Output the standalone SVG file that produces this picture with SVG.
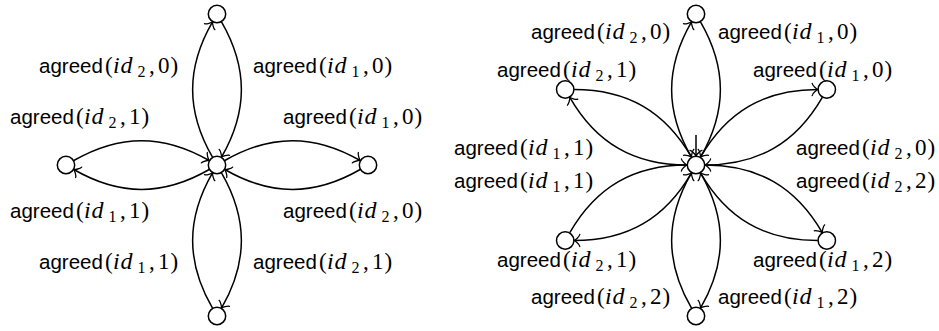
<svg xmlns="http://www.w3.org/2000/svg" width="939" height="331" viewBox="0 0 939 331">
<style>
.n{fill:#fff;stroke:#000;stroke-width:1.5}
.e{fill:none;stroke:#000;stroke-width:1.5;marker-end:url(#to)}
text{fill:#000}
.sf{font-family:"Liberation Sans",Arial,sans-serif;font-size:20.5px}
.m{font-family:"Liberation Serif","Times New Roman",serif;font-size:23px}
.mi{font-family:"Liberation Serif","Times New Roman",serif;font-size:24px;font-style:italic}
.sub{font-family:"Liberation Serif","Times New Roman",serif;font-size:16px}
</style>
<defs>
<marker id="to" markerUnits="userSpaceOnUse" viewBox="-8 -8 12 16" refX="1" refY="0" markerWidth="12" markerHeight="16" orient="auto" overflow="visible">
<path d="M-4.6,6 C-4.2,3.8 0,0.4 1,0 C0,-0.4 -4.2,-3.8 -4.6,-6" fill="none" stroke="#000" stroke-width="1.3" stroke-linecap="round" stroke-linejoin="round"/>
</marker>
</defs>

<!-- Left diagram nodes -->
<g id="l-center"><circle class="n" cx="217" cy="165" r="8.7"/></g>
<g id="l-top"><circle class="n" cx="217" cy="14" r="8.7"/></g>
<g id="l-bottom"><circle class="n" cx="217" cy="316" r="8.7"/></g>
<g id="l-left"><circle class="n" cx="66" cy="165" r="8.7"/></g>
<g id="l-right"><circle class="n" cx="368" cy="165" r="8.7"/></g>

<!-- Right diagram nodes -->
<g id="r-center"><circle class="n" cx="696" cy="165" r="8.7"/></g>
<g id="r-top"><circle class="n" cx="696" cy="14" r="8.7"/></g>
<g id="r-bottom"><circle class="n" cx="696" cy="316" r="8.7"/></g>
<g id="r-upleft"><circle class="n" cx="565.2" cy="89.5" r="8.7"/></g>
<g id="r-upright"><circle class="n" cx="826.8" cy="89.5" r="8.7"/></g>
<g id="r-lowleft"><circle class="n" cx="565.2" cy="240.5" r="8.7"/></g>
<g id="r-lowright"><circle class="n" cx="826.8" cy="240.5" r="8.7"/></g>

<g id="connectors">
<!-- left diagram -->
<path class="e" d="M212.5,157.2 C186,111.3 186,67.7 212.5,21.8"/>
<path class="e" d="M221.5,21.8 C248,67.7 248,111.3 221.5,157.2"/>
<path class="e" d="M212.5,308.2 C186,262.3 186,218.7 212.5,172.8"/>
<path class="e" d="M221.5,172.8 C248,218.7 248,262.3 221.5,308.2"/>
<path class="e" d="M224.8,160.5 C270.7,134 314.3,134 360.2,160.5"/>
<path class="e" d="M360.2,169.5 C314.3,196 270.7,196 224.8,169.5"/>
<path class="e" d="M73.8,160.5 C119.7,134 163.3,134 209.2,160.5"/>
<path class="e" d="M209.2,169.5 C163.3,196 119.7,196 73.8,169.5"/>
<!-- right diagram -->
<path class="e" d="M691.5,157.2 C665,111.3 665,67.7 691.5,21.8"/>
<path class="e" d="M700.5,21.8 C727,67.7 727,111.3 700.5,157.2"/>
<path class="e" d="M691.5,308.2 C665,262.3 665,218.7 691.5,172.8"/>
<path class="e" d="M700.5,172.8 C727,218.7 727,262.3 700.5,308.2"/>
<path class="e" d="M700.5,157.2 C727,111.3 764.8,89.5 817.8,89.5"/>
<path class="e" d="M822.3,97.3 C795.8,143.2 758,165 705,165"/>
<path class="e" d="M705,165 C758,165 795.8,186.8 822.3,232.7"/>
<path class="e" d="M817.8,240.5 C764.8,240.5 727,218.7 700.5,172.8"/>
<path class="e" d="M574.2,89.5 C627.2,89.5 665,111.3 691.5,157.2"/>
<path class="e" d="M687,165 C634,165 596.2,143.2 569.8,97.3"/>
<path class="e" d="M569.8,232.7 C596.2,186.8 634,165 687,165"/>
<path class="e" d="M691.5,172.8 C665,218.7 627.2,240.5 574.2,240.5"/>
<path class="e" d="M696,135 L696,156"/>
</g>

<g id="labels">
<g transform="translate(39,73)"><text><tspan class="sf" x="0">agreed</tspan><tspan class="m" x="66">(</tspan><tspan class="mi" x="74">i</tspan><tspan class="mi" x="81.5">d</tspan><tspan class="sub" x="98.5" y="3.5">2</tspan><tspan class="m" x="110" y="0">,</tspan><tspan class="m" x="119">0</tspan><tspan class="m" x="131.5">)</tspan></text></g>
<g transform="translate(253,73)"><text><tspan class="sf" x="0">agreed</tspan><tspan class="m" x="66">(</tspan><tspan class="mi" x="74">i</tspan><tspan class="mi" x="81.5">d</tspan><tspan class="sub" x="98.5" y="3.5">1</tspan><tspan class="m" x="110" y="0">,</tspan><tspan class="m" x="119">0</tspan><tspan class="m" x="131.5">)</tspan></text></g>
<g transform="translate(10,124)"><text><tspan class="sf" x="0">agreed</tspan><tspan class="m" x="66">(</tspan><tspan class="mi" x="74">i</tspan><tspan class="mi" x="81.5">d</tspan><tspan class="sub" x="98.5" y="3.5">2</tspan><tspan class="m" x="110" y="0">,</tspan><tspan class="m" x="119">1</tspan><tspan class="m" x="131.5">)</tspan></text></g>
<g transform="translate(283,124)"><text><tspan class="sf" x="0">agreed</tspan><tspan class="m" x="66">(</tspan><tspan class="mi" x="74">i</tspan><tspan class="mi" x="81.5">d</tspan><tspan class="sub" x="98.5" y="3.5">1</tspan><tspan class="m" x="110" y="0">,</tspan><tspan class="m" x="119">0</tspan><tspan class="m" x="131.5">)</tspan></text></g>
<g transform="translate(10,218)"><text><tspan class="sf" x="0">agreed</tspan><tspan class="m" x="66">(</tspan><tspan class="mi" x="74">i</tspan><tspan class="mi" x="81.5">d</tspan><tspan class="sub" x="98.5" y="3.5">1</tspan><tspan class="m" x="110" y="0">,</tspan><tspan class="m" x="119">1</tspan><tspan class="m" x="131.5">)</tspan></text></g>
<g transform="translate(283,218)"><text><tspan class="sf" x="0">agreed</tspan><tspan class="m" x="66">(</tspan><tspan class="mi" x="74">i</tspan><tspan class="mi" x="81.5">d</tspan><tspan class="sub" x="98.5" y="3.5">2</tspan><tspan class="m" x="110" y="0">,</tspan><tspan class="m" x="119">0</tspan><tspan class="m" x="131.5">)</tspan></text></g>
<g transform="translate(39,269)"><text><tspan class="sf" x="0">agreed</tspan><tspan class="m" x="66">(</tspan><tspan class="mi" x="74">i</tspan><tspan class="mi" x="81.5">d</tspan><tspan class="sub" x="98.5" y="3.5">1</tspan><tspan class="m" x="110" y="0">,</tspan><tspan class="m" x="119">1</tspan><tspan class="m" x="131.5">)</tspan></text></g>
<g transform="translate(253,269)"><text><tspan class="sf" x="0">agreed</tspan><tspan class="m" x="66">(</tspan><tspan class="mi" x="74">i</tspan><tspan class="mi" x="81.5">d</tspan><tspan class="sub" x="98.5" y="3.5">2</tspan><tspan class="m" x="110" y="0">,</tspan><tspan class="m" x="119">1</tspan><tspan class="m" x="131.5">)</tspan></text></g>

<g transform="translate(531,39)"><text><tspan class="sf" x="0">agreed</tspan><tspan class="m" x="66">(</tspan><tspan class="mi" x="74">i</tspan><tspan class="mi" x="81.5">d</tspan><tspan class="sub" x="98.5" y="3.5">2</tspan><tspan class="m" x="110" y="0">,</tspan><tspan class="m" x="119">0</tspan><tspan class="m" x="131.5">)</tspan></text></g>
<g transform="translate(718,39)"><text><tspan class="sf" x="0">agreed</tspan><tspan class="m" x="66">(</tspan><tspan class="mi" x="74">i</tspan><tspan class="mi" x="81.5">d</tspan><tspan class="sub" x="98.5" y="3.5">1</tspan><tspan class="m" x="110" y="0">,</tspan><tspan class="m" x="119">0</tspan><tspan class="m" x="131.5">)</tspan></text></g>
<g transform="translate(497,77)"><text><tspan class="sf" x="0">agreed</tspan><tspan class="m" x="66">(</tspan><tspan class="mi" x="74">i</tspan><tspan class="mi" x="81.5">d</tspan><tspan class="sub" x="98.5" y="3.5">2</tspan><tspan class="m" x="110" y="0">,</tspan><tspan class="m" x="119">1</tspan><tspan class="m" x="131.5">)</tspan></text></g>
<g transform="translate(753,77)"><text><tspan class="sf" x="0">agreed</tspan><tspan class="m" x="66">(</tspan><tspan class="mi" x="74">i</tspan><tspan class="mi" x="81.5">d</tspan><tspan class="sub" x="98.5" y="3.5">1</tspan><tspan class="m" x="110" y="0">,</tspan><tspan class="m" x="119">0</tspan><tspan class="m" x="131.5">)</tspan></text></g>
<g transform="translate(454,155)"><text><tspan class="sf" x="0">agreed</tspan><tspan class="m" x="66">(</tspan><tspan class="mi" x="74">i</tspan><tspan class="mi" x="81.5">d</tspan><tspan class="sub" x="98.5" y="3.5">1</tspan><tspan class="m" x="110" y="0">,</tspan><tspan class="m" x="119">1</tspan><tspan class="m" x="131.5">)</tspan></text></g>
<g transform="translate(796,155)"><text><tspan class="sf" x="0">agreed</tspan><tspan class="m" x="66">(</tspan><tspan class="mi" x="74">i</tspan><tspan class="mi" x="81.5">d</tspan><tspan class="sub" x="98.5" y="3.5">2</tspan><tspan class="m" x="110" y="0">,</tspan><tspan class="m" x="119">0</tspan><tspan class="m" x="131.5">)</tspan></text></g>
<g transform="translate(454,188)"><text><tspan class="sf" x="0">agreed</tspan><tspan class="m" x="66">(</tspan><tspan class="mi" x="74">i</tspan><tspan class="mi" x="81.5">d</tspan><tspan class="sub" x="98.5" y="3.5">1</tspan><tspan class="m" x="110" y="0">,</tspan><tspan class="m" x="119">1</tspan><tspan class="m" x="131.5">)</tspan></text></g>
<g transform="translate(796,188)"><text><tspan class="sf" x="0">agreed</tspan><tspan class="m" x="66">(</tspan><tspan class="mi" x="74">i</tspan><tspan class="mi" x="81.5">d</tspan><tspan class="sub" x="98.5" y="3.5">2</tspan><tspan class="m" x="110" y="0">,</tspan><tspan class="m" x="119">2</tspan><tspan class="m" x="131.5">)</tspan></text></g>
<g transform="translate(497,267)"><text><tspan class="sf" x="0">agreed</tspan><tspan class="m" x="66">(</tspan><tspan class="mi" x="74">i</tspan><tspan class="mi" x="81.5">d</tspan><tspan class="sub" x="98.5" y="3.5">2</tspan><tspan class="m" x="110" y="0">,</tspan><tspan class="m" x="119">1</tspan><tspan class="m" x="131.5">)</tspan></text></g>
<g transform="translate(753,267)"><text><tspan class="sf" x="0">agreed</tspan><tspan class="m" x="66">(</tspan><tspan class="mi" x="74">i</tspan><tspan class="mi" x="81.5">d</tspan><tspan class="sub" x="98.5" y="3.5">1</tspan><tspan class="m" x="110" y="0">,</tspan><tspan class="m" x="119">2</tspan><tspan class="m" x="131.5">)</tspan></text></g>
<g transform="translate(531,304)"><text><tspan class="sf" x="0">agreed</tspan><tspan class="m" x="66">(</tspan><tspan class="mi" x="74">i</tspan><tspan class="mi" x="81.5">d</tspan><tspan class="sub" x="98.5" y="3.5">2</tspan><tspan class="m" x="110" y="0">,</tspan><tspan class="m" x="119">2</tspan><tspan class="m" x="131.5">)</tspan></text></g>
<g transform="translate(718,304)"><text><tspan class="sf" x="0">agreed</tspan><tspan class="m" x="66">(</tspan><tspan class="mi" x="74">i</tspan><tspan class="mi" x="81.5">d</tspan><tspan class="sub" x="98.5" y="3.5">1</tspan><tspan class="m" x="110" y="0">,</tspan><tspan class="m" x="119">2</tspan><tspan class="m" x="131.5">)</tspan></text></g>
</g>
</svg>
